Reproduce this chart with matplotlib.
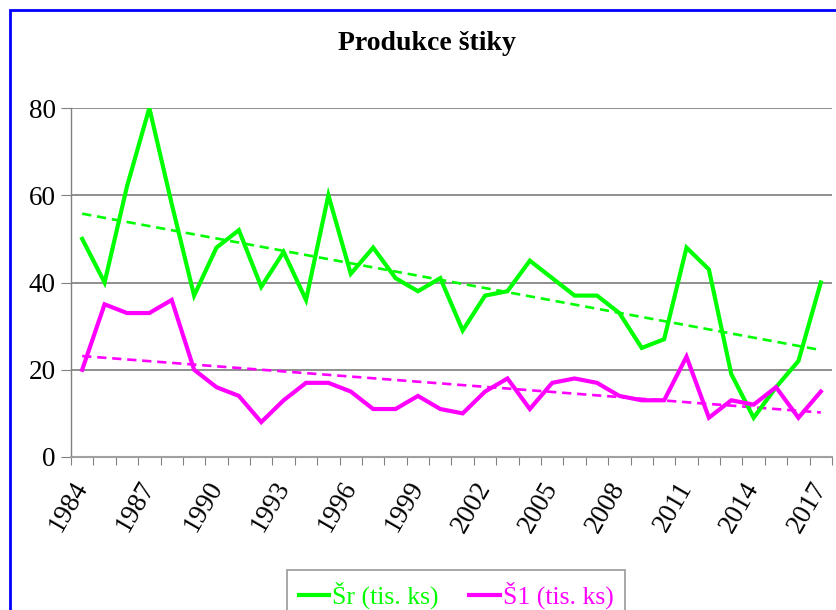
import numpy as np
import matplotlib
matplotlib.use("Agg")
import matplotlib.pyplot as plt
from matplotlib.patches import Rectangle

years = list(range(1984, 2018))
sr = [50, 40, 62, 80, 58, 37, 48, 52, 39, 47, 36, 60, 42, 48, 41, 38, 41, 29, 37, 38,
      45, 41, 37, 37, 33, 25, 27, 48, 43, 19, 9, 16, 22, 40]
s1 = [20, 35, 33, 33, 36, 20, 16, 14, 8, 13, 17, 17, 15, 11, 11, 14, 11, 10, 15, 18,
      11, 17, 18, 17, 14, 13, 13, 23, 9, 13, 12, 16, 9, 15]
labels = ["Šr (tis. ks)", "Š1 (tis. ks)"]
title = "Produkce štiky"

plt.rcParams['font.family'] = ['Liberation Serif', 'DejaVu Serif']

W, H = 837, 610
fig = plt.figure(figsize=(W / 100, H / 100), dpi=100)
ax = fig.add_axes([71 / W, 1 - 457 / H, (832 - 71) / W, (457 - 108) / H])

x = np.arange(len(years))
green = '#00ff00'
magenta = '#ff00ff'
l1, = ax.plot(x, sr, color=green, lw=3.0, solid_joinstyle='miter', label=labels[0], zorder=3)
l2, = ax.plot(x, s1, color=magenta, lw=3.0, solid_joinstyle='miter', label=labels[1], zorder=3)

for vals, c in ((sr, green), (s1, magenta)):
    p = np.polyfit(x, vals, 1)
    ax.plot(x, np.polyval(p, x), color=c, lw=1.9, ls=(0, (3.5, 2.2)), zorder=2)

ax.set_xlim(-0.5, len(years) - 0.5)
ax.set_ylim(0, 80)
ax.set_yticks([0, 20, 40, 60, 80])
ax.yaxis.grid(True, color='#707070', lw=1.1)
ax.set_axisbelow(True)
for s in ('top', 'right'):
    ax.spines[s].set_visible(False)
ax.spines['left'].set_color('#808080')
ax.spines['bottom'].set_color('#a0a0a0')
ax.spines['left'].set_linewidth(1.0)
ax.spines['bottom'].set_linewidth(1.5)

ax.set_xticks(np.arange(-0.5, len(years), 1.0))
ax.set_xticklabels([])
ax.tick_params(axis='x', which='major', length=6, color='#808080', direction='out')
ax.set_xticks(x[::3], minor=True)
ax.set_xticklabels([str(y) for y in years[::3]], minor=True, rotation=60,
                   ha='right', va='center', rotation_mode='anchor', fontsize=19.5)
ax.tick_params(axis='x', which='minor', length=0, pad=19)
ax.tick_params(axis='y', length=7, color='#808080', labelsize=19.5, pad=4)

fig.text(427 / W, 1 - 43 / H, title, ha='center', va='center', fontsize=20, fontweight='bold')

leg = fig.legend(handles=[l1, l2], loc='upper center', bbox_to_anchor=(456 / W, 1 - 570 / H),
                 ncol=2, fontsize=18.5, frameon=True, fancybox=False, edgecolor='#808080',
                 handlelength=1.2, handletextpad=0.1, columnspacing=1.2, labelcolor='linecolor',
                 borderpad=0.45, borderaxespad=0)
leg.get_frame().set_linewidth(1.2)

fig.patches.append(Rectangle((9.5 / W, -0.05), 1.1, 1 - 10 / H + 0.05, transform=fig.transFigure,
                             fill=False, edgecolor='#0000ff', lw=2.0, zorder=10))

fig.savefig('out.png', dpi=100)
